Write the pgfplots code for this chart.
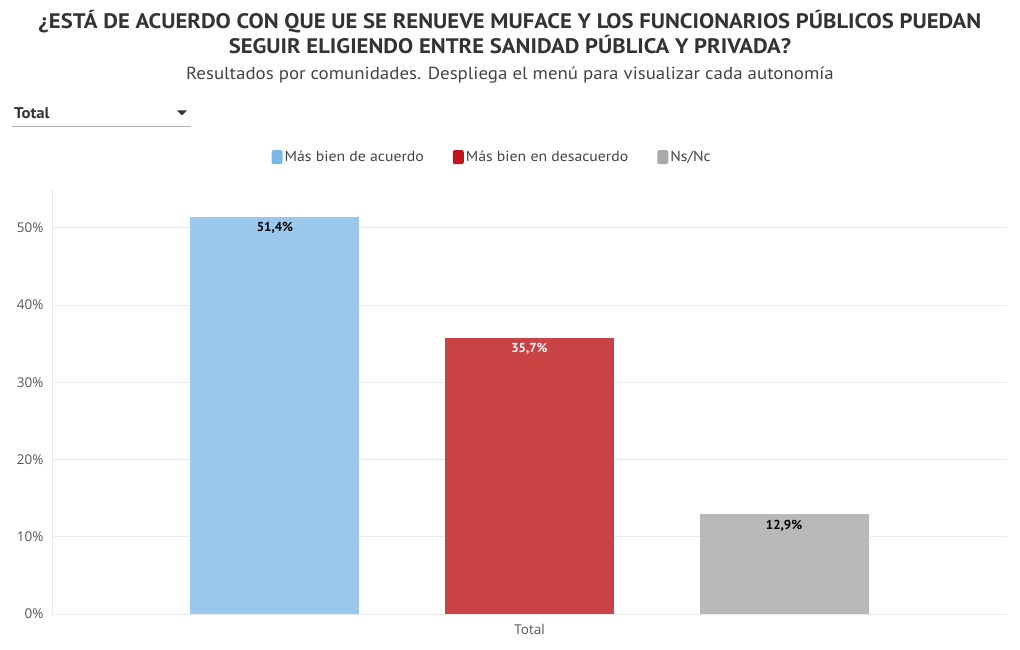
\documentclass[border=0pt]{standalone}
\usepackage{fontspec}
\setmainfont{PT Sans}
\newfontfamily\titlefont[FakeStretch=1.08]{PT Sans}
\newfontfamily\tickfont{Open Sans}
\usepackage{pgfplots}
\pgfplotsset{compat=1.18}
\definecolor{titlec}{HTML}{333333}
\definecolor{subc}{HTML}{444444}
\definecolor{tickc}{HTML}{555555}
\definecolor{gridc}{HTML}{EBEBEB}
\definecolor{barblue}{HTML}{9AC8EC}
\definecolor{barred}{HTML}{C94345}
\definecolor{bargray}{HTML}{B9B9B9}
\definecolor{legblue}{HTML}{7AB8E8}
\definecolor{legred}{HTML}{C0161B}
\definecolor{leggray}{HTML}{AAAAAA}
\begin{document}
\begin{tikzpicture}[x=1pt,y=1pt]
\useasboundingbox (-52,614) rectangle (968,-36);
\begin{scope}[shift={(-52,614)}]
\node[font=\titlefont\bfseries\fontsize{21}{24}\selectfont, text=titlec] at (510,-22) {¿ESTÁ DE ACUERDO CON QUE UE SE RENUEVE MUFACE Y LOS FUNCIONARIOS PÚBLICOS PUEDAN};
\node[font=\titlefont\bfseries\fontsize{21}{24}\selectfont, text=titlec] at (510,-45) {SEGUIR ELIGIENDO ENTRE SANIDAD PÚBLICA Y PRIVADA?};
\node[font=\titlefont\fontsize{17.5}{20}\selectfont, text=subc] at (510,-75) {Resultados por comunidades. Despliega el menú para visualizar cada autonomía};
\node[font=\titlefont\bfseries\fontsize{15.5}{18}\selectfont, text=titlec, anchor=west, inner sep=0pt] at (14,-113) {Total};
\fill[titlec] (177,-110.5) -- (187,-110.5) -- (182,-115.5) -- cycle;
\draw[gray!60, line width=0.8pt] (12,-126) -- (191,-126);
\end{scope}
\begin{axis}[
  anchor=south west, scale only axis,
  width=955pt, height=425pt,
  xmin=-1.876, xmax=1.876, ymin=0, ymax=55,
  ybar, bar width=169pt, bar shift=0pt,
  axis x line*=bottom, axis y line*=left,
  axis line style={draw=gridc, line width=0.8pt},
  ymajorgrids, grid style={draw=gridc, line width=0.8pt},
  major tick length=0pt,
  ytick={0,10,20,30,40,50},
  yticklabels={0\%,10\%,20\%,30\%,40\%,50\%},
  xtick={0}, xticklabels={Total},
  yticklabel style={font=\tickfont\fontsize{13.5}{16}\selectfont, text=tickc, xshift=-5pt},
  xticklabel style={font=\tickfont\fontsize{13.5}{16}\selectfont, text=tickc, yshift=-7pt},
  legend style={at={(0.461,1.075)}, anchor=center, draw=none, fill=none,
    legend columns=3, font=\titlefont\fontsize{14.6}{18}\selectfont, text=subc,
    /tikz/every even column/.append style={column sep=27pt}},
  point meta=explicit symbolic,
  nodes near coords,
  every node near coord/.append style={anchor=north, yshift=-2pt, font=\bfseries\fontsize{13}{15}\selectfont},
]
\addplot[fill=barblue, draw=none,
  legend image code/.code={\fill[legblue, rounded corners=2pt] (0pt,-7pt) rectangle (11pt,7pt);},
  every node near coord/.append style={text=black}]
  coordinates {(-1,51.4) [51,4\%]};
\addlegendentry{Más bien de acuerdo}
\addplot[fill=barred, draw=none,
  legend image code/.code={\fill[legred, rounded corners=2pt] (0pt,-7pt) rectangle (11pt,7pt);},
  every node near coord/.append style={text=white}]
  coordinates {(0,35.7) [35,7\%]};
\addlegendentry{Más bien en desacuerdo}
\addplot[fill=bargray, draw=none,
  legend image code/.code={\fill[leggray, rounded corners=2pt] (0pt,-7pt) rectangle (11pt,7pt);},
  every node near coord/.append style={text=black}]
  coordinates {(1,12.9) [12,9\%]};
\addlegendentry{Ns/Nc}
\end{axis}
\end{tikzpicture}
\end{document}
